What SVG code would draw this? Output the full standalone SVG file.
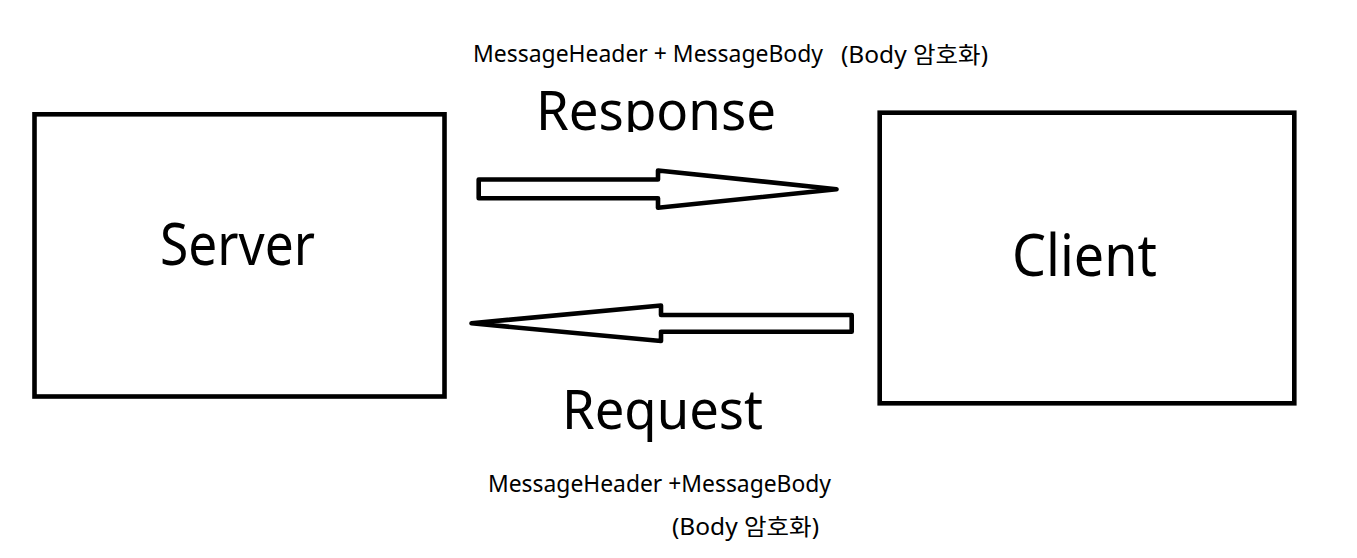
<svg xmlns="http://www.w3.org/2000/svg" width="1357" height="558" viewBox="0 0 1357 558">
  <style>
    .box { fill: #ffffff; stroke: #000000; stroke-width: 4.6; }
    .arrow { fill: #ffffff; stroke: #000000; stroke-width: 4.6; stroke-linejoin: round; }
    .t { font-family: "Noto Sans", "Open Sans", "Noto Sans CJK KR", sans-serif; fill: #000000; }
    .big { font-size: 58px; }
    .mid { font-size: 55px; }
    .small { font-size: 23px; }
  </style>
  <defs>
    <clipPath id="respClip">
      <rect x="500" y="70" width="320" height="62"/>
    </clipPath>
  </defs>
  <rect width="1357" height="558" fill="#ffffff"/>

  <g id="server">
    <rect class="box" x="34.5" y="114.3" width="410" height="282.2"/>
    <text class="t big" x="160" y="265" textLength="155" lengthAdjust="spacingAndGlyphs">Server</text>
  </g>

  <g id="client">
    <rect class="box" x="879.7" y="112.7" width="414.6" height="290.6"/>
    <text class="t big" x="1012" y="276" textLength="145" lengthAdjust="spacingAndGlyphs">Client</text>
  </g>

  <g id="connectors">
    <g id="response-arrow">
      <polygon class="arrow" points="478.7,179.5 658,179.5 658,170.5 836.5,189.2 658,207.8 658,198.3 478.7,198.3"/>
    </g>
    <g id="request-arrow">
      <polygon class="arrow" points="851.7,315 661,315 661,305.5 471.5,323.3 661,341 661,331.7 851.7,331.7"/>
    </g>
  </g>

  <g id="response-labels">
    <text class="t small" x="473" y="61.5" textLength="350" lengthAdjust="spacingAndGlyphs">MessageHeader + MessageBody</text>
    <text class="t small" x="841" y="62.5" textLength="147" lengthAdjust="spacingAndGlyphs">(Body 암호화)</text>
    <g clip-path="url(#respClip)">
      <text class="t mid" x="536" y="130" textLength="240" lengthAdjust="spacingAndGlyphs">Response</text>
    </g>
  </g>

  <g id="request-labels">
    <text class="t mid" x="562" y="429" textLength="201" lengthAdjust="spacingAndGlyphs">Request</text>
    <text class="t small" x="488" y="492" textLength="343" lengthAdjust="spacingAndGlyphs">MessageHeader +MessageBody</text>
    <text class="t small" x="672" y="534.5" textLength="147" lengthAdjust="spacingAndGlyphs">(Body 암호화)</text>
  </g>
</svg>
